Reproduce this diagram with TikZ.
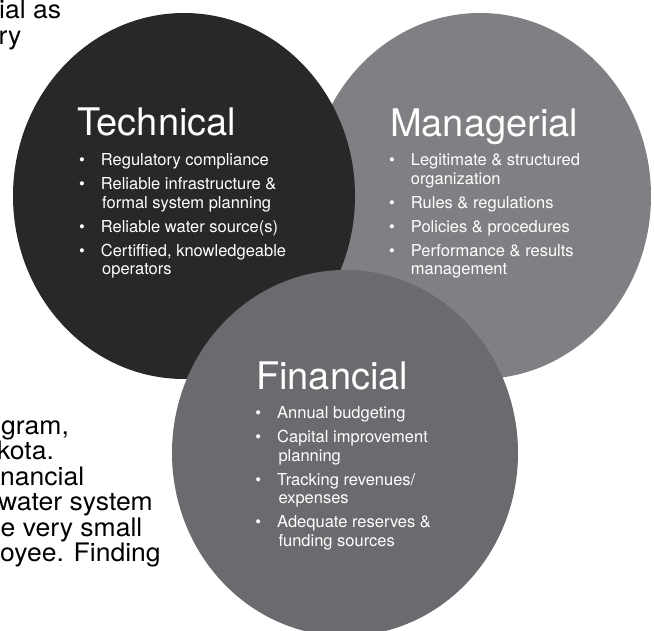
\documentclass[tikz,border=0pt]{standalone}
\usepackage{fontspec}
\usepackage{graphicx}
\setmainfont{TeX Gyre Heros}
\definecolor{techc}{HTML}{282828}
\definecolor{manc}{HTML}{808084}
\definecolor{finc}{HTML}{6B6B6F}
\tikzset{
  ttl/.style={anchor=base west, inner sep=0pt, text=white, font=\fontsize{38}{40}\selectfont},
  blist/.style={anchor=base west, inner sep=0pt, text=white, font=\fontsize{16.5}{18.7}\selectfont},
  body/.style={anchor=base west, inner sep=0pt, text=black, font=\fontsize{25.5}{28}\selectfont},
}
\newcommand{\bl}{\textbullet}
\newcommand{\cont}{\hspace{1.3pt}}
\newcommand{\wide}[1]{\scalebox{1.04}[1]{#1}}
\newenvironment{blt}{\begin{tabular}[t]{@{}p{21.8pt}@{}l@{}}}{\end{tabular}}
\begin{document}
\begin{tikzpicture}[x=1pt,y=-1pt]
\useasboundingbox (0,0) rectangle (654,631);
\clip (0,0) rectangle (654,631);
% circles
\fill[manc] (480,196) ellipse [x radius=171pt, y radius=183pt];
\fill[techc] (184,196) ellipse [x radius=171pt, y radius=183pt];
\fill[finc] (345,453) ellipse [x radius=173pt, y radius=183pt];
% page text fragments
\node[body] (p1) at (-1,19) {\wide{ial as}};
\node[body] (p2) at (-1.5,44.5) {\wide{ry}};
\node[body] (p3) at (1,434) {\wide{gram,}};
\node[body] (p4) at (-3,459.5) {\wide{kota.}};
\node[body] (p5) at (0,485) {\wide{nancial}};
\node[body] (p6) at (-2,510.5) {\wide{water system}};
\node[body] (p7) at (0.5,536) {\wide{e very small}};
\node[body] (p8) at (0,561.5) {\wide{oyee. Finding}};
% Technical
\node[ttl] (techT) at (77,136) {Technical};
\node[blist] (techL) at (78.9,165.5) {\begin{blt}
\bl & Regulatory compliance\\[5.3pt]
\bl & Reliable infrastructure \&\\
    & \cont formal system planning\\[5.3pt]
\bl & Reliable water source(s)\\[5.3pt]
\bl & Certiffied, knowledgeable\\
    & \cont operators
\end{blt}};
% Managerial
\node[ttl] (manT) at (390,136.5) {Managerial};
\node[blist] (manL) at (388.9,165.5) {\begin{blt}
\bl & Legitimate \& structured\\
    & organization\\[5.3pt]
\bl & Rules \& regulations\\[5.3pt]
\bl & Policies \& procedures\\[5.3pt]
\bl & Performance \& results\\
    & management
\end{blt}};
% Financial
\node[ttl] (finT) at (256,389) {Financial};
\node[blist] (finL) at (255.2,418.5) {\begin{blt}
\bl & Annual budgeting\\[5.3pt]
\bl & Capital improvement\\
    & \cont planning\\[5.3pt]
\bl & Tracking revenues/\\
    & \cont expenses\\[5.3pt]
\bl & Adequate reserves \&\\
    & \cont funding sources
\end{blt}};
\end{tikzpicture}
\end{document}
